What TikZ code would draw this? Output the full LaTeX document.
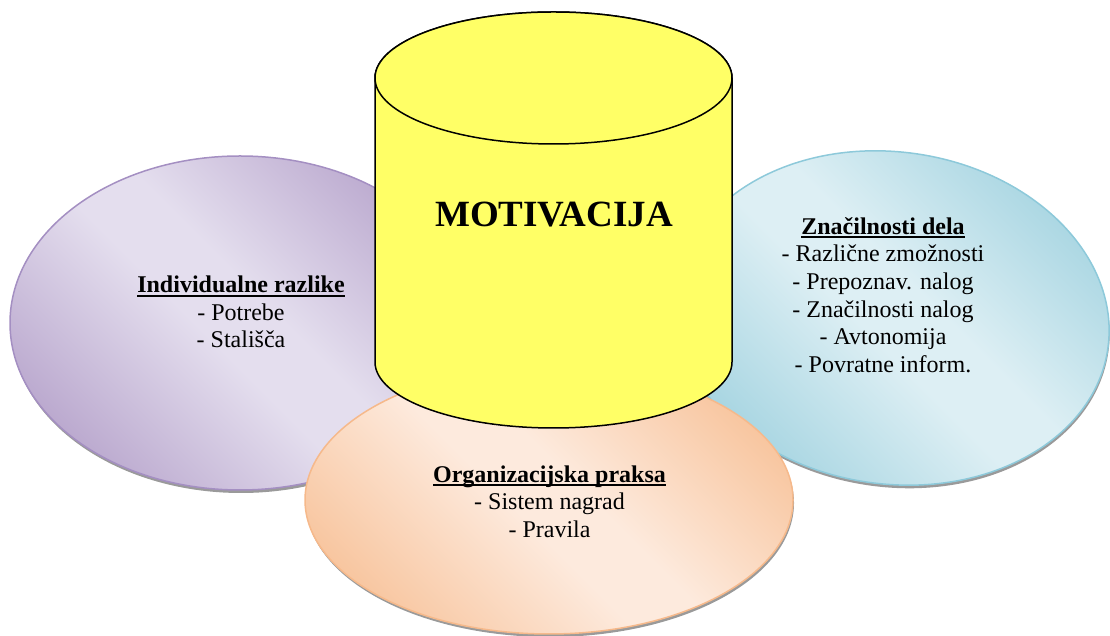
\documentclass[tikz,border=0pt]{standalone}
\usepackage{fontspec}
\setmainfont{Liberation Serif}
\definecolor{purpD}{HTML}{BAA8CE}
\definecolor{purpL}{HTML}{E4DEEE}
\definecolor{purpB}{HTML}{A48FC2}
\definecolor{blueD}{HTML}{A3D3E0}
\definecolor{blueL}{HTML}{DDEFF4}
\definecolor{blueB}{HTML}{8DC9DA}
\definecolor{oranD}{HTML}{F8C6A0}
\definecolor{oranL}{HTML}{FDEADD}
\definecolor{oranB}{HTML}{F6B98B}
\definecolor{cylY}{HTML}{FFFF66}
\definecolor{rimG}{HTML}{9A9A9A}
\pgfdeclareverticalshading{shP}{100bp}{color(0bp)=(purpD); color(24bp)=(purpD); color(46bp)=(purpL); color(54bp)=(purpL); color(76bp)=(purpD); color(100bp)=(purpD)}
\pgfdeclareverticalshading{shB}{100bp}{color(0bp)=(blueD); color(24bp)=(blueD); color(46bp)=(blueL); color(54bp)=(blueL); color(76bp)=(blueD); color(100bp)=(blueD)}
\pgfdeclareverticalshading{shO}{100bp}{color(0bp)=(oranD); color(24bp)=(oranD); color(46bp)=(oranL); color(54bp)=(oranL); color(76bp)=(oranD); color(100bp)=(oranD)}
\newcommand\myul[1]{\setbox0=\hbox{#1}\rlap{\rule[-4pt]{\wd0}{2pt}}\box0}
\tikzset{
  lbl/.style={align=center, font=\fontsize{24}{27.6}\selectfont, inner sep=0pt},
  rim/.style={fill=rimG},
  purpfill/.style={draw=purpB, line width=1.5pt, shading=shP, shading angle=-45},
  bluefill/.style={draw=blueB, line width=1.5pt, shading=shB, shading angle=-45},
  oranfill/.style={draw=oranB, line width=1.5pt, shading=shO, shading angle=-45},
  cyl/.style={fill=cylY, draw=black, line width=1.5pt, line join=round}
}
\begin{document}
\begin{tikzpicture}[x=1pt,y=1pt]
\useasboundingbox (0,0) rectangle (1110,636);
% left ellipse
\fill[rim] (241,636-326) ellipse [x radius=230, y radius=167];
\path[purpfill] (240,636-323) ellipse [x radius=230, y radius=167];
% right ellipse
\begin{scope}[shift={(892,636-318)}, rotate=-8]
\fill[rim] (1,-3) ellipse [x radius=218, y radius=166];
\path[bluefill] (0,0) ellipse [x radius=218, y radius=166];
\end{scope}
% bottom ellipse
\fill[rim] (550,636-503) ellipse [x radius=244, y radius=134];
\path[oranfill] (549,636-500) ellipse [x radius=244, y radius=134];
% cylinder
\path[cyl] (375,558) -- (375,274) arc [start angle=180, end angle=360, x radius=178.5, y radius=66] -- (732,558) arc [start angle=0, end angle=180, x radius=178.5, y radius=66] -- cycle;
\path[cyl] (553.5,558) ellipse [x radius=178.5, y radius=66];
% texts
\node[anchor=base, font=\fontsize{37}{40}\selectfont\bfseries, inner sep=0pt] (motiv) at (554,636-227) {MOTIVACIJA};
\node[lbl] (indiv) at (241,636-312) {\textbf{\myul{Individualne razlike}}\\- Potrebe\\- Stališča};
\node[lbl] (znac) at (883,636-295) {\textbf{\myul{Značilnosti dela}}\\- Različne zmožnosti\\- Prepoznav. nalog\\- Značilnosti nalog\\- Avtonomija\\- Povratne inform.};
\node[lbl] (org) at (549.5,636-501.5) {\textbf{\myul{Organizacijska praksa}}\\- Sistem nagrad\\- Pravila};
\end{tikzpicture}
\end{document}
